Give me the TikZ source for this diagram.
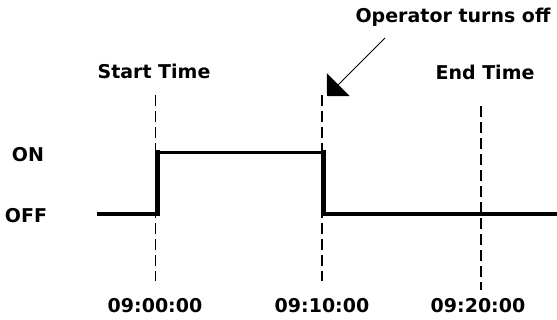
\documentclass[tikz,border=0pt]{standalone}
\usepackage{fontspec}
\newfontfamily\lblfont{DejaVu Sans Bold}
\usetikzlibrary{arrows.meta}

\begin{document}
\begin{tikzpicture}[x=1pt, y=-1pt,
  lbl/.style={font=\lblfont\fontsize{19}{22}\selectfont, anchor=base, inner sep=0pt},
  guide/.style={line width=1.5pt, dash pattern=on 11pt off 5pt},
  sig/.style={line width=3.5pt, line join=miter},
  edge/.style={line width=5pt, line cap=rect},
  ptr/.style={line width=1pt, -{Triangle[length=16pt, width=32pt]}}
]
  \useasboundingbox (0,0) rectangle (557,320);

  % level labels
  \node[lbl] (on)  at (28,162) {ON};
  \node[lbl] (off) at (26,223) {OFF};
  % event labels
  \node[lbl] (start) at (154,79) {Start Time};
  \node[lbl] (end)   at (485,80) {End Time};
  \node[lbl] (oper)  at (453,23) {Operator turns off};
  % time axis
  \node[lbl] (t0) at (155,313) {09:00:00};
  \node[lbl] (t1) at (322,313) {09:10:00};
  \node[lbl] (t2) at (478,313) {09:20:00};

  % dashed guides
  \coordinate (g0a) at (155.5,95);  \coordinate (g0b) at (155.5,281);
  \coordinate (g1a) at (322,95);    \coordinate (g1b) at (322,281);
  \coordinate (g2a) at (481,106);   \coordinate (g2b) at (481,290);
  \draw[guide] (g0a) -- (g0b);
  \draw[guide] (g1a) -- (g1b);
  \draw[guide] (g2a) -- (g2b);

  % signal
  \coordinate (s0) at (97,214);
  \coordinate (r0) at (157.5,214);  \coordinate (r1) at (157.5,152.5);
  \coordinate (f0) at (323.5,152.5); \coordinate (f1) at (323.5,214);
  \coordinate (s1) at (557,214);
  \draw[sig] (s0) -- (r0) -- (r1) -- (f0) -- (f1) -- (s1);
  \draw[edge] (r0) -- (r1);
  \draw[edge] (f0) -- (f1);

  % pointer
  \coordinate (pa) at (385,38);
  \coordinate (pb) at (327,96);
  \draw[ptr] (pa) -- (pb);
\end{tikzpicture}
\end{document}
